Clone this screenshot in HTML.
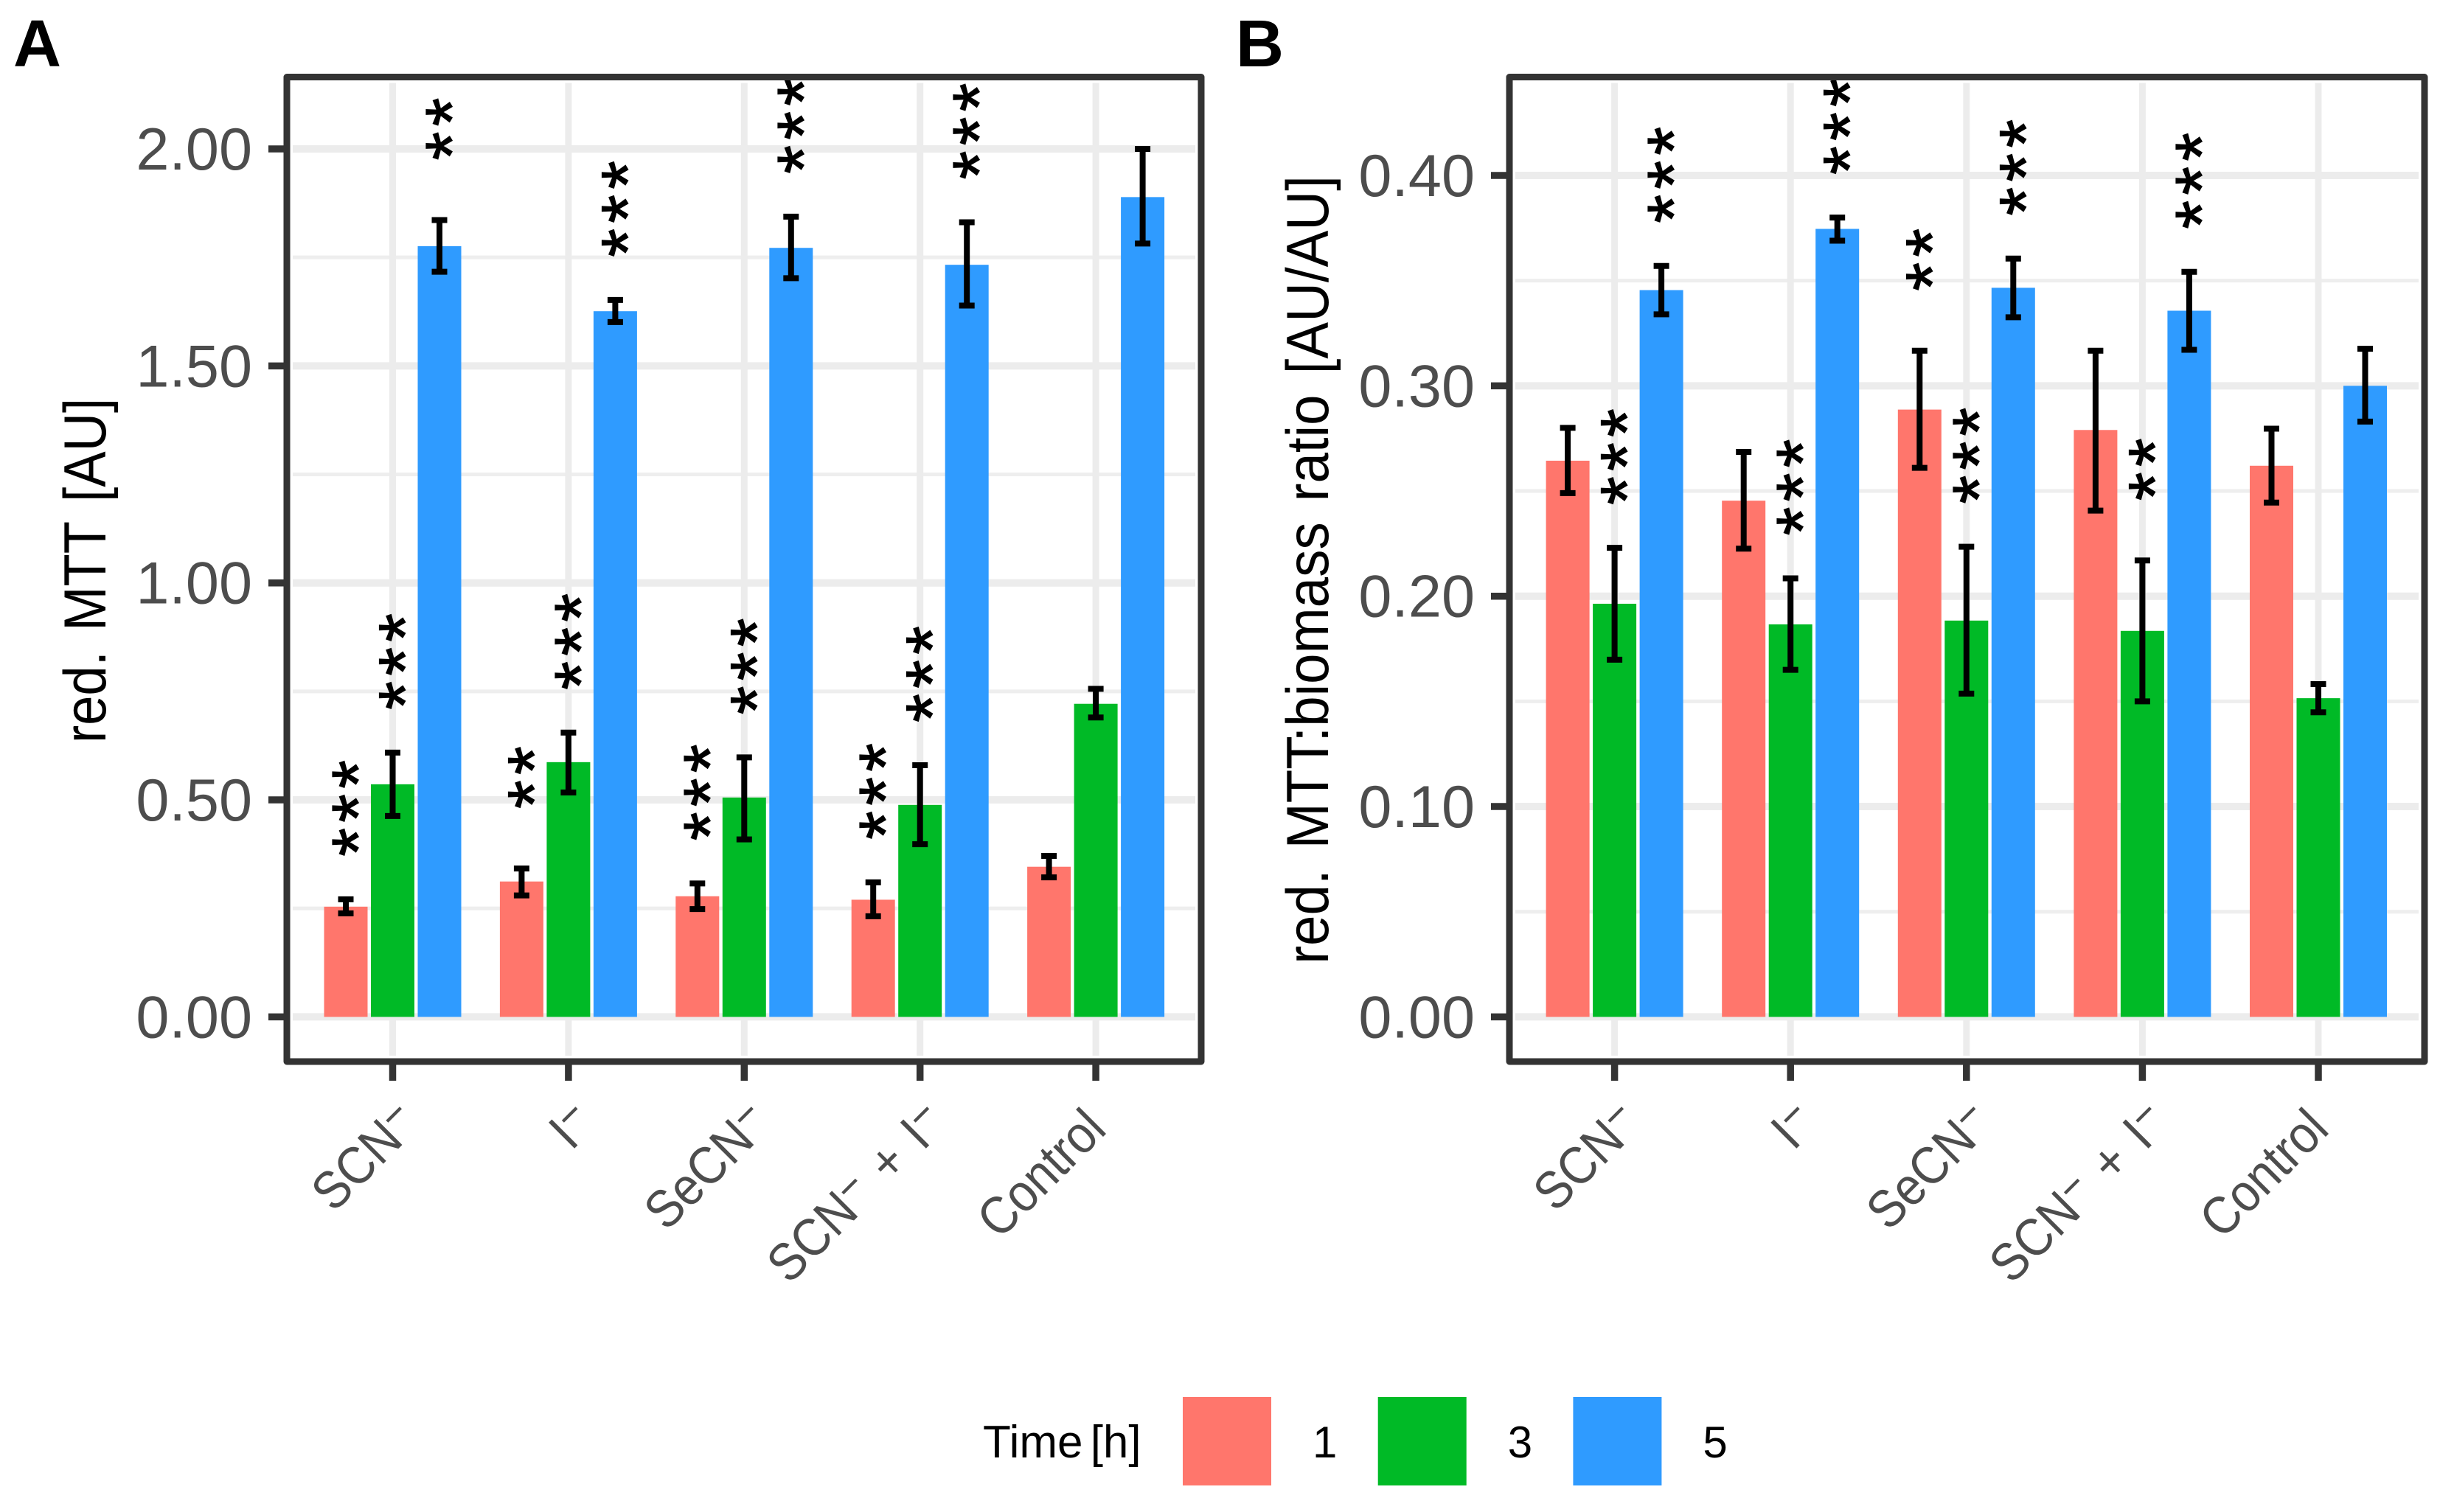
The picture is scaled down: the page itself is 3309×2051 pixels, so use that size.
<!DOCTYPE html>
<html>
<head>
<meta charset="utf-8">
<title>red. MTT bar charts</title>
<style>
html,body{margin:0;padding:0;background:#fff;}
body{width:3309px;height:2051px;overflow:hidden;}
svg{display:block;}
text{font-family:"Liberation Sans",sans-serif;}
</style>
</head>
<body>
<svg id="figure" width="3309" height="2051" viewBox="0 0 3309 2051" xmlns="http://www.w3.org/2000/svg"></svg>
<script>
// ---- shared data ----
const categories = ["SCN^−", "I^−", "SeCN^−", "SCN^− + I^−", "Control"];
const seriesNames = ["1", "3", "5"];
const seriesColors = ["#ff766c", "#00ba26", "#2f9bff"];

// ---- panel A values ----
const aMean1 = [0.254, 0.312, 0.278, 0.270, 0.346];
const aLow1  = [0.2385, 0.280, 0.2485, 0.232, 0.3215];
const aHigh1 = [0.271, 0.342, 0.3075, 0.310, 0.371];
const aMean3 = [0.536, 0.587, 0.5055, 0.4885, 0.7214];
const aLow3  = [0.463, 0.517, 0.409, 0.398, 0.690];
const aHigh3 = [0.609, 0.655, 0.598, 0.580, 0.756];
const aMean5 = [1.776, 1.626, 1.772, 1.733, 1.889];
const aLow5  = [1.717, 1.601, 1.702, 1.639, 1.782];
const aHigh5 = [1.836, 1.652, 1.844, 1.831, 2.000];
const aStars1 = [3, 2, 3, 3, 0];
const aStars3 = [3, 3, 3, 3, 0];
const aStars5 = [2, 3, 3, 3, 0];
const aMajorTicks = [0, 0.5, 1, 1.5, 2];
const aTickLabels = ["0.00", "0.50", "1.00", "1.50", "2.00"];
const aMinorTicks = [0.25, 0.75, 1.25, 1.75];

// ---- panel B values ----
const bMean1 = [0.2644, 0.2454, 0.2887, 0.279, 0.262];
const bLow1  = [0.249, 0.2226, 0.261, 0.2407, 0.2445];
const bHigh1 = [0.280, 0.2686, 0.3167, 0.3167, 0.2796];
const bMean3 = [0.1964, 0.1866, 0.1884, 0.1835, 0.1515];
const bLow3  = [0.1698, 0.165, 0.1537, 0.150, 0.1448];
const bHigh3 = [0.223, 0.2085, 0.2235, 0.217, 0.1582];
const bMean5 = [0.3455, 0.3746, 0.3466, 0.3357, 0.300];
const bLow5  = [0.334, 0.369, 0.3326, 0.3171, 0.283];
const bHigh5 = [0.357, 0.380, 0.3605, 0.3542, 0.3176];
const bStars1 = [0, 0, 2, 0, 0];
const bStars3 = [3, 3, 3, 2, 0];
const bStars5 = [3, 3, 3, 3, 0];
const bMajorTicks = [0, 0.1, 0.2, 0.3, 0.4];
const bTickLabels = ["0.00", "0.10", "0.20", "0.30", "0.40"];
const bMinorTicks = [0.05, 0.15, 0.25, 0.35];

const svgNS = "http://www.w3.org/2000/svg";
const root = document.getElementById("figure");

function el(tag, attrs, parent) {
  const n = document.createElementNS(svgNS, tag);
  for (const k in attrs) n.setAttribute(k, attrs[k]);
  (parent || root).appendChild(n);
  return n;
}

function addTickText(node, label) {
  // "^" marks a superscript minus following it
  const parts = label.split("^−");
  parts.forEach(function (part, i) {
    if (part) {
      const t = el("tspan", {}, node);
      t.textContent = part;
      if (i > 0) t.setAttribute("dy", "17");
    }
    if (i < parts.length - 1) {
      const s = el("tspan", {"font-size": "60", dy: "-17"}, node);
      s.textContent = "−";
    }
  });
}

function drawPanel(cfg) {
  const g = el("g", {});
  
  

  const xCat = function (i) { return cfg.x0 + i * cfg.xStep; };
  const xBar = function (i, s) { return xCat(i) + (s - 1) * 63.5; };
  const yVal = function (v) { return cfg.yZero - v * cfg.pxPerUnit; };

  const clipId = cfg.name + "-clip";
  const defs = el("defs", {}, g);
  const clip = el("clipPath", {id: clipId}, defs);
  el("rect", {x: cfg.left + 4, y: cfg.top + 4, width: cfg.right - cfg.left - 8, height: cfg.bottom - cfg.top - 8}, clip);

  // grid
  const grid = el("g", {}, g);
  
  
  const gx1 = cfg.left + 8, gx2 = cfg.right - 8, gy1 = cfg.top + 8, gy2 = cfg.bottom - 8;
  cfg.minor.forEach(function (v) {
    const ln = el("line", {x1: gx1, x2: gx2, y1: yVal(v), y2: yVal(v), stroke: "#eeeeee", "stroke-width": 5}, grid);
    
    
  });
  cfg.major.forEach(function (v) {
    const ln = el("line", {x1: gx1, x2: gx2, y1: yVal(v), y2: yVal(v), stroke: "#ececec", "stroke-width": 10}, grid);
    
    
  });
  categories.forEach(function (c, i) {
    const ln = el("line", {x1: xCat(i), x2: xCat(i), y1: gy1, y2: gy2, stroke: "#ececec", "stroke-width": 9}, grid);
    
    
  });

  // bars
  cfg.means.forEach(function (vals, s) {
    vals.forEach(function (v, i) {
      const r = el("rect", {x: xBar(i, s) - 29.5, y: yVal(v), width: 59, height: yVal(0) - yVal(v), fill: seriesColors[s]}, g);
      
      
    });
  });

  // error bars
  cfg.means.forEach(function (vals, s) {
    vals.forEach(function (v, i) {
      const e = el("g", {stroke: "#000", "stroke-width": 8, fill: "none"}, g);
      
      
      const x = xBar(i, s), hi = yVal(cfg.highs[s][i]), lo = yVal(cfg.lows[s][i]);
      el("line", {x1: x, x2: x, y1: hi, y2: lo}, e);
      el("line", {x1: x - 10.5, x2: x + 10.5, y1: hi, y2: hi}, e);
      el("line", {x1: x - 10.5, x2: x + 10.5, y1: lo, y2: lo}, e);
    });
  });

  // significance stars
  const starsG = el("g", {"clip-path": "url(#" + clipId + ")"}, g);
  cfg.stars.forEach(function (vals, s) {
    vals.forEach(function (n, i) {
      if (!n) return;
      const cx = xBar(i, s), cy = yVal(cfg.highs[s][i]) - 127;
      const t = el("text", {
        transform: "translate(" + (cx + 51) + "," + cy + ") rotate(-90)",
        "text-anchor": "middle", "font-size": 100, "letter-spacing": 7.1, fill: "#000",
        stroke: "#000", "stroke-width": 1.2
      }, starsG);
      
      
      t.textContent = "*".repeat(n);
    });
  });

  // border
  const border = el("rect", {x: cfg.left, y: cfg.top, width: cfg.right - cfg.left, height: cfg.bottom - cfg.top, fill: "none", stroke: "#333333", "stroke-width": 9, "stroke-linejoin": "round"}, g);
  
  

  // y axis
  cfg.major.forEach(function (v, i) {
    const tk = el("line", {x1: cfg.left - 25, x2: cfg.left, y1: yVal(v), y2: yVal(v), stroke: "#333333", "stroke-width": 9.5}, g);
    
    
    const t = el("text", {x: cfg.left - 47, y: yVal(v) + 28, "text-anchor": "end", "font-size": 81, fill: "#4d4d4d"}, g);
    
    
    t.textContent = cfg.tickLabels[i];
  });

  // x axis
  categories.forEach(function (c, i) {
    const tk = el("line", {x1: xCat(i), x2: xCat(i), y1: cfg.bottom, y2: cfg.bottom + 26, stroke: "#333333", "stroke-width": 9.5}, g);
    
    
    const hasSup = c.indexOf("^") >= 0;
    const dx = hasSup ? 39 : 17, ly = hasSup ? 1527 : 1535;
    const t = el("text", {
      transform: "translate(" + (xCat(i) + dx) + "," + ly + ") rotate(-45) scale(0.9,1)",
      "text-anchor": "end", "font-size": 72, fill: "#4d4d4d", "word-spacing": 8
    }, g);
    
    
    addTickText(t, c);
  });

  // y title
  const yt = el("text", {
    transform: "translate(" + cfg.titleX + "," + cfg.titleY + ") rotate(-90) scale(" + cfg.titleScale + ",1)",
    "text-anchor": "middle", "font-size": 81, fill: "#000", "word-spacing": 8
  }, g);
  
  
  yt.textContent = cfg.title;

  // panel tag
  const tag = el("text", {x: cfg.tagX, y: 90, "font-size": 90, "font-weight": "bold", fill: "#000"}, g);
  
  
  tag.textContent = cfg.tag;
}

drawPanel({
  name: "panel-a", tag: "A", tagX: 18,
  left: 389, right: 1629, top: 104.5, bottom: 1440,
  x0: 532.5, xStep: 238.4, yZero: 1379.4, pxPerUnit: 588.7,
  means: [aMean1, aMean3, aMean5], lows: [aLow1, aLow3, aLow5], highs: [aHigh1, aHigh3, aHigh5],
  stars: [aStars1, aStars3, aStars5],
  major: aMajorTicks, minor: aMinorTicks, tickLabels: aTickLabels,
  title: "red. MTT [AU]", titleX: 143, titleY: 774, titleScale: 0.895
});

drawPanel({
  name: "panel-b", tag: "B", tagX: 1676,
  left: 2047, right: 3288, top: 104.5, bottom: 1440,
  x0: 2189.6, xStep: 238.6, yZero: 1379.4, pxPerUnit: 2853.5,
  means: [bMean1, bMean3, bMean5], lows: [bLow1, bLow3, bLow5], highs: [bHigh1, bHigh3, bHigh5],
  stars: [bStars1, bStars3, bStars5],
  major: bMajorTicks, minor: bMinorTicks, tickLabels: bTickLabels,
  title: "red. MTT:biomass ratio [AU/AU]", titleX: 1801, titleY: 773, titleScale: 0.92
});

// legend
const legend = el("g", {});


const legendTitle = el("text", {x: 1333, y: 1977, "font-size": 62, fill: "#000", "word-spacing": -7}, legend);


legendTitle.textContent = "Time [h]";
seriesNames.forEach(function (name, s) {
  const sx = 1604 + s * 264.7;
  const sw = el("rect", {x: sx, y: 1895, width: 120, height: 120, fill: seriesColors[s]}, legend);
  
  
  const lb = el("text", {x: sx + 176, y: 1977, "font-size": 60, fill: "#000"}, legend);
  
  
  lb.textContent = name;
});
</script>
</body>
</html>
